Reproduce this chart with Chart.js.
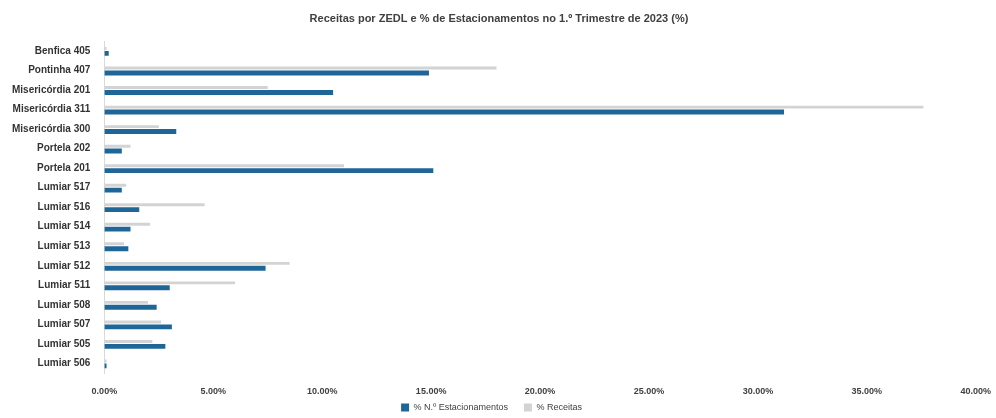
<!DOCTYPE html>
<html>
<head>
<meta charset="utf-8">
<script src="https://cdn.jsdelivr.net/npm/chart.js@4.4.0/dist/chart.umd.min.js"></script>
<style>
  html, body { margin: 0; padding: 0; background: #fff; }
  #wrap { width: 996px; height: 418px; position: relative; }
</style>
</head>
<body>
<div id="wrap"><canvas id="grafico"></canvas></div>
<script>
// Zonas (de cima para baixo)
var zonas = [
  "Benfica 405", "Pontinha 407", "Misericórdia 201", "Misericórdia 311",
  "Misericórdia 300", "Portela 202", "Portela 201", "Lumiar 517",
  "Lumiar 516", "Lumiar 514", "Lumiar 513", "Lumiar 512",
  "Lumiar 511", "Lumiar 508", "Lumiar 507", "Lumiar 505", "Lumiar 506"
];
// % N.º Estacionamentos (barra azul)
var pctEstacionamentos = [0.2, 14.9, 10.5, 31.2, 3.3, 0.8, 15.1, 0.8, 1.6, 1.2, 1.1, 7.4, 3.0, 2.4, 3.1, 2.8, 0.1];
// % Receitas (barra cinzenta)
var pctReceitas = [0.1, 18.0, 7.5, 37.6, 2.5, 1.2, 11.0, 1.0, 4.6, 2.1, 0.9, 8.5, 6.0, 2.0, 2.6, 2.2, 0.1];
var ticksX = [0, 5, 10, 15, 20, 25, 30, 35, 40];

var ctx = document.getElementById('grafico').getContext('2d');
var myChart = new Chart(ctx, {
  type: 'bar',
  data: {
    labels: zonas,
    datasets: [
      {
        label: '% Receitas',
        data: pctReceitas,
        backgroundColor: '#d3d3d3',
        categoryPercentage: 0.5,
        barPercentage: 0.6
      },
      {
        label: '% N.º Estacionamentos',
        data: pctEstacionamentos,
        backgroundColor: '#1f6698',
        categoryPercentage: 0.5,
        barPercentage: 1.0
      }
    ]
  },
  options: {
    indexAxis: 'y',
    responsive: true,
    maintainAspectRatio: false,
    animation: false,
    layout: { padding: { left: 6, right: 4, top: 4, bottom: -4 } },
    plugins: {
      title: {
        display: true,
        text: 'Receitas por ZEDL e % de Estacionamentos no 1.º Trimestre de 2023 (%)',
        color: '#404040',
        font: { family: 'Liberation Sans', size: 11, weight: 'bold' },
        padding: { top: 8, bottom: 16 }
      },
      legend: {
        position: 'bottom',
        reverse: true,
        labels: {
          boxWidth: 8, boxHeight: 8,
          color: '#404040',
          font: { family: 'Liberation Sans', size: 9 },
          padding: 1,
          // espaço extra entre as entradas da legenda
          generateLabels: function(chart) {
            var items = Chart.defaults.plugins.legend.labels.generateLabels(chart);
            items.forEach(function(it) { it.text = it.text + '      '; });
            return items;
          }
        }
      },
      tooltip: { enabled: false }
    },
    scales: {
      x: {
        min: 0,
        max: 40,
        afterBuildTicks: function(axis) {
          axis.ticks = ticksX.map(function(v) { return { value: v }; });
        },
        ticks: {
          color: '#404040',
          font: { family: 'Liberation Sans', size: 9, weight: 'bold' },
          callback: function(v) { return v.toFixed(2) + '%'; },
          padding: 5
        },
        grid: { display: false },
        border: { display: false }
      },
      y: {
        ticks: {
          color: '#333333',
          font: { family: 'Liberation Sans', size: 10, weight: 'bold' },
          autoSkip: false,
          padding: 6
        },
        grid: { display: false },
        border: { display: true, color: '#d9d9d9' }
      }
    }
  }
});
</script>
</body>
</html>
